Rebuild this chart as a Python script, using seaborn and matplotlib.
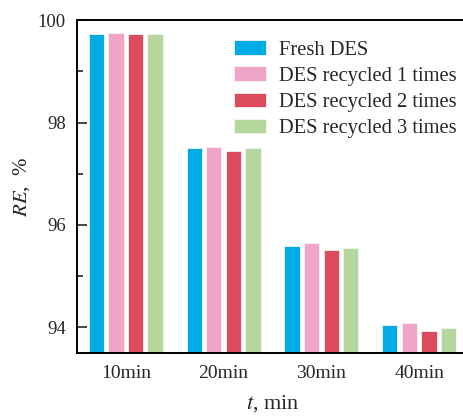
import pandas as pd
import matplotlib.pyplot as plt
import seaborn as sns

# Values
times = ["10min", "20min", "30min", "40min"]
series = ["Fresh DES", "DES recycled 1 times", "DES recycled 2 times", "DES recycled 3 times"]
fresh = [99.73, 97.50, 95.59, 94.05]
recycled_1 = [99.74, 97.53, 95.65, 94.08]
recycled_2 = [99.72, 97.45, 95.50, 93.92]
recycled_3 = [99.73, 97.51, 95.55, 93.98]
colors = ["#00ACE6", "#F0A4C7", "#DE4A5D", "#B5D69C"]

rows = []
for name, vals in zip(series, [fresh, recycled_1, recycled_2, recycled_3]):
    for t, v in zip(times, vals):
        rows.append({"Time": t, "Series": name, "RE": v})
df = pd.DataFrame(rows)

sns.set_style("ticks")
plt.rcParams["font.family"] = ["Liberation Serif", "DejaVu Serif"]
plt.rcParams["mathtext.fontset"] = "stix"

fig = plt.figure(figsize=(4.63, 4.2), dpi=100)
ax = fig.add_axes([0.166, 0.16, 0.845, 0.792])

sns.barplot(
    data=df, x="Time", y="RE", hue="Series", order=times, hue_order=series,
    palette=colors, saturation=1, width=0.8, gap=0.22, edgecolor="#f4f4f4",
    linewidth=0.6, ax=ax,
)

ax.set_ylim(93.5, 100)
ax.set_xlim(-0.5, 3.5)
ax.set_yticks([94, 96, 98, 100])
ax.set_yticks([95, 97, 99], minor=True)
ax.tick_params(axis="y", which="major", direction="in", length=7, width=1.2, labelsize=13.5, pad=8)
ax.tick_params(axis="y", which="minor", direction="in", length=4, width=1.2)
ax.tick_params(axis="x", length=0, labelsize=14, pad=9)

ax.spines["right"].set_visible(False)
for s in ["left", "top", "bottom"]:
    ax.spines[s].set_linewidth(1.4)
    ax.spines[s].set_color("black")

ax.set_ylabel(r"$RE$,  %", fontsize=15, labelpad=4)
ax.set_xlabel(r"$t$, min", fontsize=16, labelpad=8)

ax.legend(
    loc="upper left", bbox_to_anchor=(0.39, 0.952), frameon=False,
    fontsize=14.8, handlelength=1.6, handleheight=0.7, handletextpad=0.6,
    labelspacing=0.33, borderaxespad=0, borderpad=0.2,
)

plt.savefig("out.png", dpi=100)
